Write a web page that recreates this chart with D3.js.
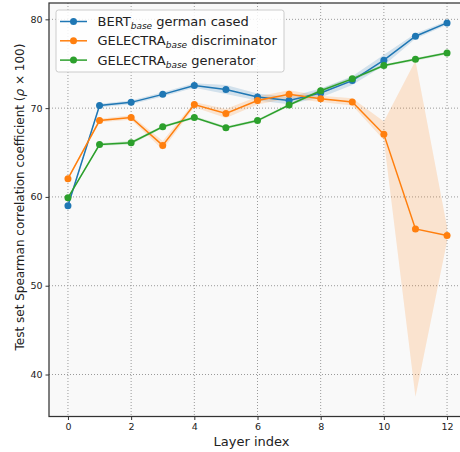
<!DOCTYPE html>
<html><head><meta charset="utf-8">
<script src="https://cdn.jsdelivr.net/npm/d3@7"></script>
<style>body{margin:0;background:#fff;} svg{display:block;} text{font-family:"DejaVu Sans",sans-serif;}</style>
</head><body><svg id="c" width="460" height="452"></svg>
<script>
const layers = [0,1,2,3,4,5,6,7,8,9,10,11,12];
const xTicks = [0,2,4,6,8,10,12];
const yTicks = [40,50,60,70,80];

const bertMean = [59.0,70.3,70.65,71.55,72.55,72.1,71.25,70.85,71.7,73.1,75.4,78.1,79.6];
const bertLo   = [58.8,70.1,70.45,71.3,72.3,71.6,70.85,70.45,71.2,72.6,74.8,77.8,79.4];
const bertHi   = [59.2,70.5,70.85,71.8,72.8,72.6,71.65,71.25,72.2,73.6,76.0,78.4,79.8];

const discMean = [62.05,68.6,68.95,65.8,70.4,69.4,70.85,71.55,71.05,70.7,67.05,56.4,55.65];
const discLo   = [61.9,68.4,68.7,65.3,70.1,68.9,70.4,71.1,70.7,70.3,66.4,37.5,55.0];
const discHi   = [62.2,68.8,69.2,66.3,70.7,69.9,71.3,72.0,71.4,71.1,68.5,75.35,56.6];

const genMean  = [59.9,65.9,66.1,67.9,68.95,67.8,68.6,70.35,71.95,73.3,74.8,75.5,76.2];
const genLo    = [59.75,65.75,65.9,67.75,68.8,67.65,68.45,70.2,71.75,73.1,74.65,75.35,76.05];
const genHi    = [60.05,66.05,66.3,68.05,69.1,67.95,68.75,70.5,72.15,73.5,74.95,75.65,76.35];

const series = [
  {name:"BERT", sub:"base", rest:" german cased", color:"#1f77b4", mean:bertMean, lo:bertLo, hi:bertHi},
  {name:"GELECTRA", sub:"base", rest:" discriminator", color:"#ff7f0e", mean:discMean, lo:discLo, hi:discHi},
  {name:"GELECTRA", sub:"base", rest:" generator", color:"#2ca02c", mean:genMean, lo:genLo, hi:genHi}
];

const svg = d3.select("#c");
const L = 49, T = 3, R = 466, B = 416.5;
const x = d3.scaleLinear().domain([-0.6,12.6]).range([L,R]);
const y = d3.scaleLinear().domain([35.27,81.84]).range([B,T]);

svg.append("defs").append("clipPath").attr("id","clip")
  .append("rect").attr("x",L).attr("y",T).attr("width",R-L).attr("height",B-T);

svg.append("rect").attr("x",L).attr("y",T).attr("width",R-L).attr("height",B-T).attr("fill","#f9f9f9");

// grid
const g = svg.append("g");
g.selectAll(".gx").data(xTicks).join("line")
  .attr("x1",d=>x(d)).attr("x2",d=>x(d)).attr("y1",T).attr("y2",B)
  .attr("stroke","#9a9a9a").attr("stroke-width",1).attr("stroke-dasharray","1,2");
g.selectAll(".gy").data(yTicks).join("line")
  .attr("y1",d=>y(d)).attr("y2",d=>y(d)).attr("x1",L).attr("x2",R)
  .attr("stroke","#9a9a9a").attr("stroke-width",1).attr("stroke-dasharray","1,2");

const plot = svg.append("g").attr("clip-path","url(#clip)");
const area = d3.area().x((d,i)=>x(layers[i])).y0(d=>y(d[0])).y1(d=>y(d[1]));
const line = d3.line().x((d,i)=>x(layers[i])).y(d=>y(d));

series.forEach(s=>{
  const band = s.lo.map((v,i)=>[v,s.hi[i]]);
  plot.append("path").datum(band).attr("d",area).attr("fill",s.color).attr("fill-opacity",0.18).attr("stroke","none");
});
series.forEach(s=>{
  plot.append("path").datum(s.mean).attr("d",line).attr("fill","none").attr("stroke",s.color).attr("stroke-width",1.5);
  plot.selectAll(null).data(s.mean).join("circle")
    .attr("cx",(d,i)=>x(layers[i])).attr("cy",d=>y(d)).attr("r",3.5).attr("fill",s.color);
});

// axes
const xAxis = svg.append("g").attr("transform",`translate(0,${B})`)
  .call(d3.axisBottom(x).tickValues(xTicks).tickSize(3.5).tickPadding(3).tickFormat(d3.format("d")));
const yAxis = svg.append("g").attr("transform",`translate(${L},0)`)
  .call(d3.axisLeft(y).tickValues(yTicks).tickSize(3.5).tickPadding(3).tickFormat(d3.format("d")));
[xAxis,yAxis].forEach(a=>{
  a.select(".domain").remove();
  a.selectAll("line").attr("stroke","#333");
  a.selectAll("text").attr("font-size","9.5px").attr("fill","#222").attr("font-family","DejaVu Sans");
});

// frame
svg.append("rect").attr("x",L).attr("y",T).attr("width",R-L).attr("height",B-T)
  .attr("fill","none").attr("stroke","#333").attr("stroke-width",1.25);

svg.append("text").attr("x",(L+R)/2 - 6).attr("y",446).attr("text-anchor","middle")
  .attr("font-size","13px").attr("fill","#222").text("Layer index");
const yl = svg.append("text").attr("transform","translate(24,197) rotate(-90)").attr("text-anchor","middle")
  .attr("font-size","12px").attr("fill","#222");
yl.append("tspan").text("Test set Spearman correlation coefficient (");
yl.append("tspan").attr("font-style","italic").text("ρ");
yl.append("tspan").text(" × 100)");

// legend
const lg = svg.append("g");
lg.append("rect").attr("x",56).attr("y",10).attr("width",228).attr("height",62).attr("rx",2.5)
  .attr("fill","#ffffff").attr("fill-opacity",0.85).attr("stroke","#cccccc").attr("stroke-width",1);
series.forEach((s,i)=>{
  const yy = 21.5 + i*19.3;
  lg.append("line").attr("x1",60).attr("x2",87).attr("y1",yy).attr("y2",yy).attr("stroke",s.color).attr("stroke-width",1.5);
  lg.append("circle").attr("cx",73.5).attr("cy",yy).attr("r",3.5).attr("fill",s.color);
  const t = lg.append("text").attr("x",97.5).attr("y",yy+4.5).attr("font-size","13px").attr("fill","#222");
  t.append("tspan").text(s.name);
  t.append("tspan").attr("font-size","9px").attr("font-style","italic").attr("dy",3).text(s.sub);
  t.append("tspan").attr("dy",-3).text(s.rest);
});
</script></body></html>
